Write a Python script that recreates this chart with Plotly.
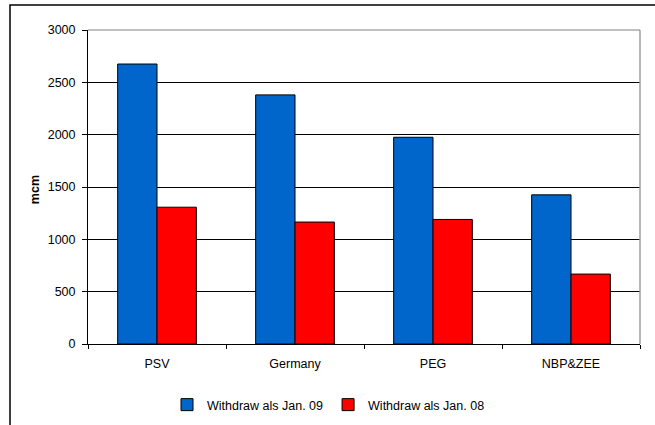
import plotly.graph_objects as go

categories = ["PSV", "Germany", "PEG", "NBP&ZEE"]
jan09 = [2675, 2380, 1975, 1425]
jan08 = [1307, 1165, 1190, 668]
series_names = ["Withdraw als Jan. 09", "Withdraw als Jan. 08"]
y_ticks = [0, 500, 1000, 1500, 2000, 2500, 3000]

W, H = 655, 425
L, R, T, B = 88, 15, 30, 81
pw, ph = W - L - R, H - T - B

fig = go.Figure()
fig.add_trace(go.Bar(x=categories, y=jan09, name=series_names[0],
                     marker=dict(color="#0066CC", line=dict(color="black", width=1))))
fig.add_trace(go.Bar(x=categories, y=jan08, name=series_names[1],
                     marker=dict(color="#FF0000", line=dict(color="black", width=1))))

font = dict(family="Liberation Sans, Arial, sans-serif", size=12.5, color="black")

fig.update_layout(
    width=W, height=H,
    margin=dict(l=L, r=R, t=T, b=B, pad=0, autoexpand=False),
    paper_bgcolor="white", plot_bgcolor="white",
    barmode="group", bargap=0.43, bargroupgap=0,
    font=font,
    showlegend=True,
    legend=dict(orientation="h", x=(167 - L) / pw, xanchor="left", y=(T + ph - 405) / ph,
                yanchor="middle", font=font, itemwidth=30, tracegroupgap=0,
                bgcolor="rgba(0,0,0,0)"),
    xaxis=dict(type="category", showgrid=False, showline=True, linecolor="black",
               linewidth=1, ticks="outside", tickson="boundaries", ticklen=4,
               tickcolor="black", tickfont=font, zeroline=False, ticklabelstandoff=8),
    yaxis=dict(range=[0, 3000], tickvals=y_ticks, showgrid=True, gridcolor="black",
               gridwidth=1, showline=True, linecolor="black", linewidth=1,
               ticks="outside", ticklen=5, tickcolor="black", tickfont=font,
               zeroline=False, ticklabelstandoff=4),
)

fig.add_annotation(text="<b>mcm</b>", textangle=-90, xref="paper", yref="paper",
                   x=(35 - L) / pw, y=0.49, xanchor="center", yanchor="middle",
                   showarrow=False,
                   font=dict(family="Liberation Sans, Arial, sans-serif", size=12.5, color="black"))

# plot area right/top border (gray)
fig.add_shape(type="line", xref="paper", yref="paper", x0=1, x1=1, y0=0, y1=1,
              line=dict(color="#A0A0A0", width=1.5))
fig.add_shape(type="line", xref="paper", yref="paper", x0=0, x1=1, y0=1, y1=1,
              line=dict(color="#808080", width=1))
# outer chart border
fig.add_shape(type="rect", xref="paper", yref="paper",
              x0=(10 - L) / pw, x1=(W + 20 - L) / pw,
              y0=(T + ph - (H + 20)) / ph, y1=(T + ph - 5) / ph,
              line=dict(color="black", width=1.5), layer="below")

fig.write_html("out.html")
